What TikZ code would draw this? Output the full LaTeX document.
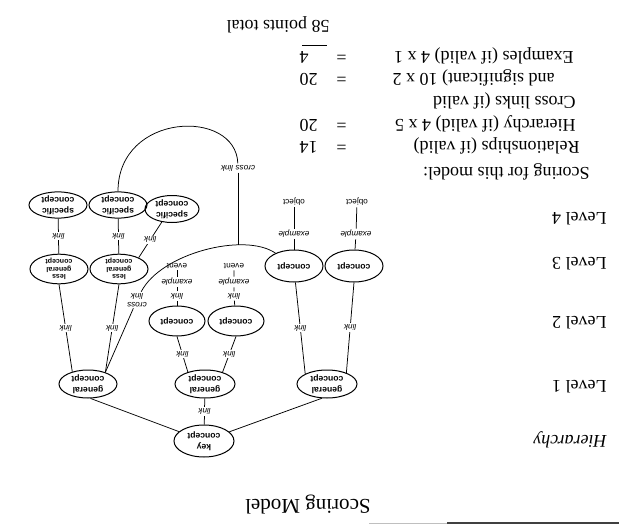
\documentclass[tikz,border=0pt]{standalone}
\usepackage{fontspec}
\setmainfont{Liberation Serif}
\setsansfont{Liberation Sans}
\usetikzlibrary{shapes.geometric}
\begin{document}
\begin{tikzpicture}[x=1pt,y=1pt,line width=0.75pt,
  concept/.style={ellipse,draw,line width=1pt,inner sep=0pt,align=center,
    minimum width=58pt,minimum height=28pt,
    font=\sffamily\bfseries\fontsize{8.6}{10.5}\selectfont},
  smallconcept/.style={concept,font=\sffamily\bfseries\fontsize{7}{7.2}\selectfont},
  tag/.style={fill=white,inner sep=1.2pt,align=center,
    font=\sffamily\itshape\fontsize{8.2}{9}\selectfont},
  item/.style={inner sep=1.2pt,font=\sffamily\fontsize{8.2}{9}\selectfont},
  body/.style={inner sep=0pt,anchor=base west,font=\fontsize{18}{22}\selectfont},
]
\begin{scope}[rotate=180,transform shape]
\useasboundingbox (0,0) rectangle (619,525);

% page header rule, fading out to the right
\draw[line width=1.6pt,black!75] (0,523) -- (172,523);
\draw[line width=1pt,black!25] (172,523) -- (250,523);

% headings
\node[body,anchor=base,font=\fontsize{21}{24}\selectfont] (title) at (311,499) {Scoring Model};
\node[body,font=\itshape\fontsize{18}{22}\selectfont] (hier) at (12,435) {Hierarchy};
\node[body] (lv1) at (12,380) {Level 1};
\node[body] (lv2) at (12,316) {Level 2};
\node[body] (lv3) at (12,257) {Level 3};
\node[body] (lv4) at (12,212) {Level 4};

% concepts
\node[concept,minimum width=60pt,minimum height=32pt] (key) at (415,441) {key\\concept};
\node[concept] (g1) at (531,384) {general\\concept};
\node[concept,minimum width=60pt] (g2) at (414,384) {general\\concept};
\node[concept,minimum width=60pt] (g3) at (292,384) {general\\concept};
\node[concept,minimum width=56pt,minimum height=30pt] (c2a) at (442,321) {concept};
\node[concept,minimum width=56pt,minimum height=30pt] (c2b) at (383,321) {concept};
\node[concept,minimum height=32pt] (c3a) at (325,266) {concept};
\node[concept,minimum height=32pt] (c3b) at (265,266) {concept};
\node[smallconcept] (lg1) at (560,269) {less\\general\\concept};
\node[smallconcept] (lg2) at (500,269) {less\\general\\concept};
\node[concept,minimum height=26pt] (s1) at (561,205) {specific\\concept};
\node[concept,minimum height=26pt] (s2) at (501,205) {specific\\concept};
\node[concept,minimum width=54pt,minimum height=27pt] (s3) at (447,209) {specific\\concept};

% examples below the concepts
\node[tag] (lkA) at (442,296) {link};
\node[tag] (exA) at (442,282) {example};
\node[item] (evA) at (442,266) {event};
\node[tag] (lkB) at (385,296) {link};
\node[tag] (exB) at (385,282) {example};
\node[item] (evB) at (385,266) {event};
\node[tag] (exR1) at (325,234) {example};
\node[item] (obR1) at (325,202) {object};
\node[tag] (exR2) at (263,234) {example};
\node[item] (obR2) at (262,202) {object};

% hierarchy links
\draw (g1.100) -- (key);
\draw (g3.70) -- (key);
\draw (key) -- node[tag] {link} (g2);
\draw (g2.325) -- node[tag] {link} (c2a.90);
\draw (g2.214) -- node[tag] {link} (c2b.90);
\draw (g3.335) -- node[tag] {link} (c3a.95);
\draw (g3.210) -- node[tag] {link} (c3b.90);
\draw (g1.322) -- node[tag] {link} (lg1.90);
\draw (g1.214) -- node[tag] {link} (lg2.90);
\draw (lg1) -- node[tag] {link} (s1);
\draw (lg2) -- node[tag] {link} (s2);
\draw (lg2.210) -- node[tag] {link} (s3.52);

% example chains
\draw (c2a) -- (lkA) -- (exA) -- (evA);
\draw (c2b) -- (lkB) -- (exB) -- (evB);
\draw (c3a) -- (exR1) -- (obR1);
\draw (c3b) -- (exR2) -- (obR2);

% cross links
\node[tag] (clA) at (482,300) {cross\\link};
\node[tag] (clB) at (381,168) {cross link};
\draw (g1.214) -- (clA);
\draw (clA) .. controls (458,253) and (374,232) .. (c3a) coordinate[pos=0.7] (jn);
\draw (s2) .. controls (501,112) and (383,108) .. (clB);
\draw (clB) -- (clB |- jn);

% scoring summary
\node[body] (sc0) at (29,167) {Scoring for this model:};
\node[body] (sc1) at (39,141) {Relationships (if valid)};
\node[body] (sc2) at (43,119) {Hierarchy (if valid) 4 x 5};
\node[body] (sc3) at (43,96) {Cross links (if valid};
\node[body] (sc4) at (64,73) {and significant) 10 x 2};
\node[body] (sc5) at (45,51) {Examples (if valid) 4 x 1};
\node[body] (v1) at (272,141) {\makebox[47pt]{=\hfill 14}};
\node[body] (v2) at (272,119) {\makebox[47pt]{=\hfill 20}};
\node[body] (v4) at (272,73) {\makebox[47pt]{=\hfill 20}};
\node[body] (v5) at (272,51) {\makebox[47pt]{=\hfill 4}};
\draw[line width=0.9pt] (292,45) -- (317,45);
\node[body] (tot) at (289,20) {58 points total};
\end{scope}
\end{tikzpicture}
\end{document}
